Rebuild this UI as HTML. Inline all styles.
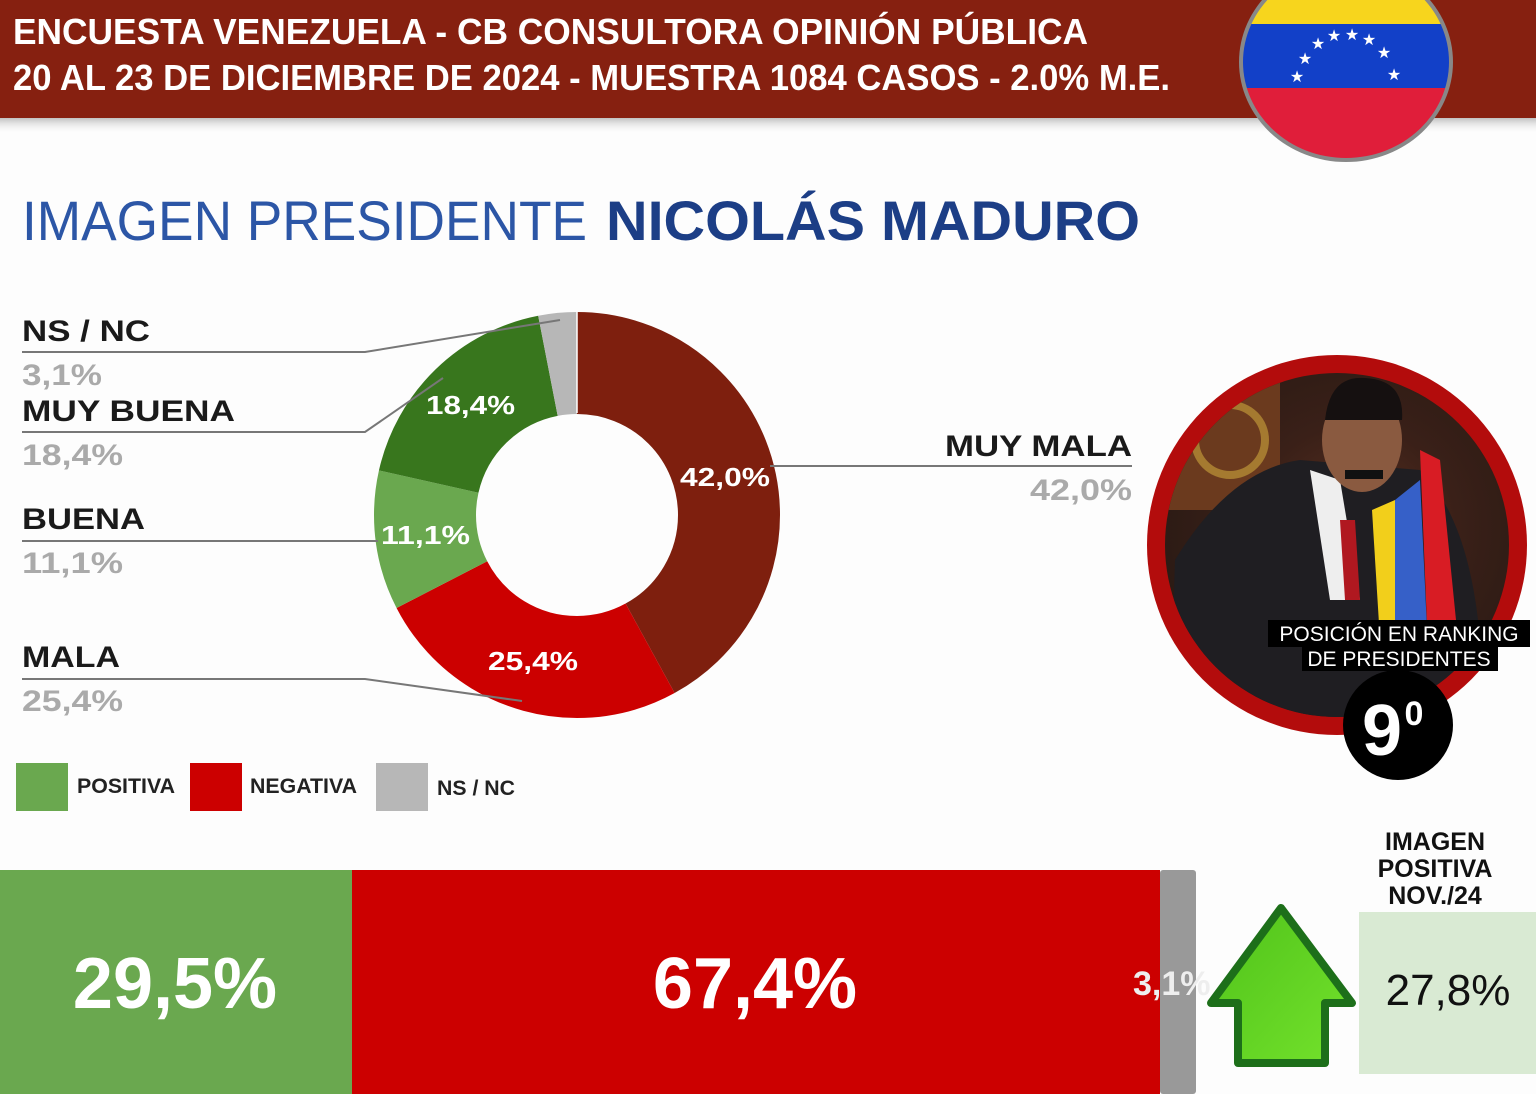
<!DOCTYPE html>
<html><head><meta charset="utf-8"><style>
html,body{margin:0;padding:0;width:1536px;height:1094px;overflow:hidden;background:#fdfdfd;}
svg{display:block}
</style></head><body>
<svg width="1536" height="1094" viewBox="0 0 1536 1094" xmlns="http://www.w3.org/2000/svg">
<defs>
<linearGradient id="hs" x1="0" y1="0" x2="0" y2="1"><stop offset="0" stop-color="#999" stop-opacity=".6"/><stop offset="1" stop-color="#fff" stop-opacity="0"/></linearGradient>
<linearGradient id="ag" x1="0" y1="0" x2="1" y2="1"><stop offset="0" stop-color="#4fc21a"/><stop offset="1" stop-color="#74e22c"/></linearGradient>
<radialGradient id="ph" cx="0.55" cy="0.45" r="0.6"><stop offset="0" stop-color="#5a3020"/><stop offset="0.5" stop-color="#3a2018"/><stop offset="1" stop-color="#2a1a14"/></radialGradient>
<clipPath id="pc"><circle cx="1337" cy="545" r="172"/></clipPath>
<clipPath id="fc"><ellipse cx="1346" cy="62" rx="103" ry="96"/></clipPath>
</defs>
<rect width="1536" height="1094" fill="#fdfdfd"/>
<rect x="0" y="118" width="1536" height="16" fill="url(#hs)"/>
<rect x="0" y="0" width="1536" height="118" fill="#862010"/>
<g font-family="Liberation Sans Narrow, Liberation Sans, sans-serif" font-weight="bold" fill="#fff" font-size="36">
<text x="13" y="44" textLength="1075" lengthAdjust="spacingAndGlyphs">ENCUESTA VENEZUELA - CB CONSULTORA OPINIÓN PÚBLICA</text>
<text x="13" y="90" textLength="1157" lengthAdjust="spacingAndGlyphs">20 AL 23 DE DICIEMBRE  DE 2024 - MUESTRA 1084 CASOS - 2.0% M.E.</text>
</g>
<ellipse cx="1346" cy="62" rx="107" ry="100" fill="#888"/>
<g clip-path="url(#fc)">
<rect x="1240" y="-40" width="220" height="64" fill="#f7d51d"/>
<rect x="1240" y="24" width="220" height="64" fill="#1240c8"/>
<rect x="1240" y="88" width="220" height="80" fill="#e01e3a"/>
<g fill="#fff" font-size="16" font-family="DejaVu Sans" text-anchor="middle">
<text x="1297" y="82">★</text><text x="1305" y="64">★</text><text x="1318" y="49">★</text><text x="1334" y="41">★</text><text x="1352" y="40">★</text><text x="1369" y="45">★</text><text x="1384" y="58">★</text><text x="1394" y="80">★</text>
</g>
</g>
<text x="22" y="240" font-family="Liberation Sans, sans-serif" font-size="56" fill="#2c56a6" textLength="565" lengthAdjust="spacingAndGlyphs">IMAGEN PRESIDENTE</text>
<text x="606" y="240" font-family="Liberation Sans, sans-serif" font-size="56" font-weight="bold" fill="#1c3e86" textLength="534" lengthAdjust="spacingAndGlyphs">NICOLÁS MADURO</text>
<g transform="rotate(-90 577 515)" fill="none" stroke-width="102">
<circle cx="577" cy="515" r="152" stroke="#7e1f0e" stroke-dasharray="401.1 955.0"/>
<circle cx="577" cy="515" r="152" stroke="#cc0000" stroke-dasharray="242.6 955.0" stroke-dashoffset="-401.1"/>
<circle cx="577" cy="515" r="152" stroke="#6aa84f" stroke-dasharray="106.0 955.0" stroke-dashoffset="-643.7"/>
<circle cx="577" cy="515" r="152" stroke="#38761d" stroke-dasharray="175.7 955.0" stroke-dashoffset="-749.7"/>
<circle cx="577" cy="515" r="152" stroke="#b7b7b7" stroke-dasharray="29.6 955.0" stroke-dashoffset="-925.4"/>
</g>
<g stroke="#fff" stroke-width="1.5"><line x1="577" y1="312" x2="577" y2="413"/></g>
<g font-family="Liberation Sans, sans-serif" font-weight="bold" fill="#fff" font-size="26">
<text x="426" y="414" textLength="89" lengthAdjust="spacingAndGlyphs">18,4%</text>
<text x="680" y="486" textLength="90" lengthAdjust="spacingAndGlyphs">42,0%</text>
<text x="381" y="544" textLength="89" lengthAdjust="spacingAndGlyphs">11,1%</text>
<text x="488" y="670" textLength="90" lengthAdjust="spacingAndGlyphs">25,4%</text>
</g>
<g stroke="#777" stroke-width="2" fill="none">
<polyline points="22,352 365,352 560,320"/>
<polyline points="22,432 365,432 443,378"/>
<polyline points="22,541 378,541"/>
<polyline points="22,679 365,679 522,701"/>
<polyline points="770,466 1132,466"/>
</g>
<g font-family="Liberation Sans, sans-serif" font-weight="bold" font-size="30">
<text x="22" y="341" fill="#1a1a1a" textLength="128" lengthAdjust="spacingAndGlyphs">NS / NC</text>
<text x="22" y="385" fill="#aaa" textLength="80" lengthAdjust="spacingAndGlyphs">3,1%</text>
<text x="22" y="421" fill="#1a1a1a" textLength="213" lengthAdjust="spacingAndGlyphs">MUY BUENA</text>
<text x="22" y="465" fill="#aaa" textLength="101" lengthAdjust="spacingAndGlyphs">18,4%</text>
<text x="22" y="529" fill="#1a1a1a" textLength="123" lengthAdjust="spacingAndGlyphs">BUENA</text>
<text x="22" y="573" fill="#aaa" textLength="101" lengthAdjust="spacingAndGlyphs">11,1%</text>
<text x="22" y="667" fill="#1a1a1a" textLength="98" lengthAdjust="spacingAndGlyphs">MALA</text>
<text x="22" y="711" fill="#aaa" textLength="101" lengthAdjust="spacingAndGlyphs">25,4%</text>
<text x="945" y="456" fill="#1a1a1a" textLength="187" lengthAdjust="spacingAndGlyphs">MUY MALA</text>
<text x="1030" y="500" fill="#aaa" textLength="102" lengthAdjust="spacingAndGlyphs">42,0%</text>
</g>
<rect x="16" y="763" width="52" height="48" fill="#6aa84f"/>
<rect x="190" y="763" width="52" height="48" fill="#cc0000"/>
<rect x="376" y="763" width="52" height="48" fill="#b7b7b7"/>
<g font-family="Liberation Sans, sans-serif" font-weight="bold" font-size="21" fill="#222">
<text x="77" y="793" textLength="98" lengthAdjust="spacingAndGlyphs">POSITIVA</text>
<text x="250" y="793" textLength="107" lengthAdjust="spacingAndGlyphs">NEGATIVA</text>
<text x="437" y="795" textLength="78" lengthAdjust="spacingAndGlyphs">NS / NC</text>
</g>
<circle cx="1337" cy="545" r="190" fill="#b30c0c"/>
<circle cx="1337" cy="545" r="172" fill="url(#ph)"/>
<g clip-path="url(#pc)">
<rect x="1160" y="370" width="120" height="140" fill="#6b3a1e"/>
<circle cx="1230" cy="440" r="35" fill="none" stroke="#a57a30" stroke-width="8"/>
<path d="M1175 560 Q1230 470 1300 460 L1420 470 Q1470 520 1480 640 L1480 720 L1170 720 Z" fill="#1f1e22"/>
<path d="M1310 470 L1340 480 L1360 600 L1330 600 Z" fill="#eee"/>
<path d="M1340 520 L1355 520 L1360 600 L1345 600 Z" fill="#b01820"/>
<path d="M1372 510 L1395 500 L1395 640 L1380 640 Z" fill="#f2cf1b"/>
<path d="M1395 500 L1420 480 L1428 650 L1395 640 Z" fill="#3660c8"/>
<path d="M1420 450 L1440 460 L1460 660 L1428 650 Z" fill="#d81c24"/>
<ellipse cx="1362" cy="440" rx="40" ry="52" fill="#8a5a40"/>
<path d="M1325 420 Q1330 375 1365 378 Q1405 380 1402 420 Z" fill="#151010"/>
<rect x="1345" y="470" width="38" height="9" fill="#111"/>
</g>
<rect x="1268" y="620" width="262" height="27" fill="#000"/>
<rect x="1302" y="647" width="196" height="24" fill="#000"/>
<g font-family="Liberation Sans, sans-serif" font-size="21" fill="#fff" text-anchor="middle">
<text x="1399" y="641">POSICIÓN EN RANKING</text><text x="1399" y="666">DE PRESIDENTES</text>
</g>
<circle cx="1398" cy="725" r="55" fill="#000"/>
<text x="1382" y="755" font-family="Liberation Sans, sans-serif" font-weight="bold" font-size="72" fill="#fff" text-anchor="middle">9</text>
<text x="1414" y="725" font-family="Liberation Sans, sans-serif" font-weight="bold" font-size="34" fill="#fff" text-anchor="middle">0</text>
<rect x="0" y="870" width="352" height="224" fill="#6aa84f"/>
<rect x="352" y="870" width="808" height="224" fill="#cc0000"/>
<rect x="1160" y="870" width="36" height="224" fill="#999" rx="3"/>
<g font-family="Liberation Sans, sans-serif" font-weight="bold" fill="#fff" font-size="72" text-anchor="middle">
<text x="175" y="1008">29,5%</text><text x="755" y="1008">67,4%</text>
</g>
<text x="1133" y="995" font-family="Liberation Sans, sans-serif" font-weight="bold" font-size="34" fill="#eee">3,1%</text>
<polygon points="1281,908 1352,1003 1325,1003 1325,1063 1238,1063 1238,1003 1211,1003" fill="url(#ag)" stroke="#1d6f1a" stroke-width="8" stroke-linejoin="round"/>
<text font-family="Liberation Sans, sans-serif" font-weight="bold" font-size="25" fill="#111" text-anchor="middle"><tspan x="1435" y="850">IMAGEN</tspan><tspan x="1435" y="877">POSITIVA</tspan><tspan x="1435" y="904">NOV./24</tspan></text>
<rect x="1359" y="912" width="177" height="162" fill="#d9ead3"/>
<text x="1448" y="1005" font-family="Liberation Sans, sans-serif" font-size="44" fill="#111" text-anchor="middle">27,8%</text>
</svg>
</body></html>
